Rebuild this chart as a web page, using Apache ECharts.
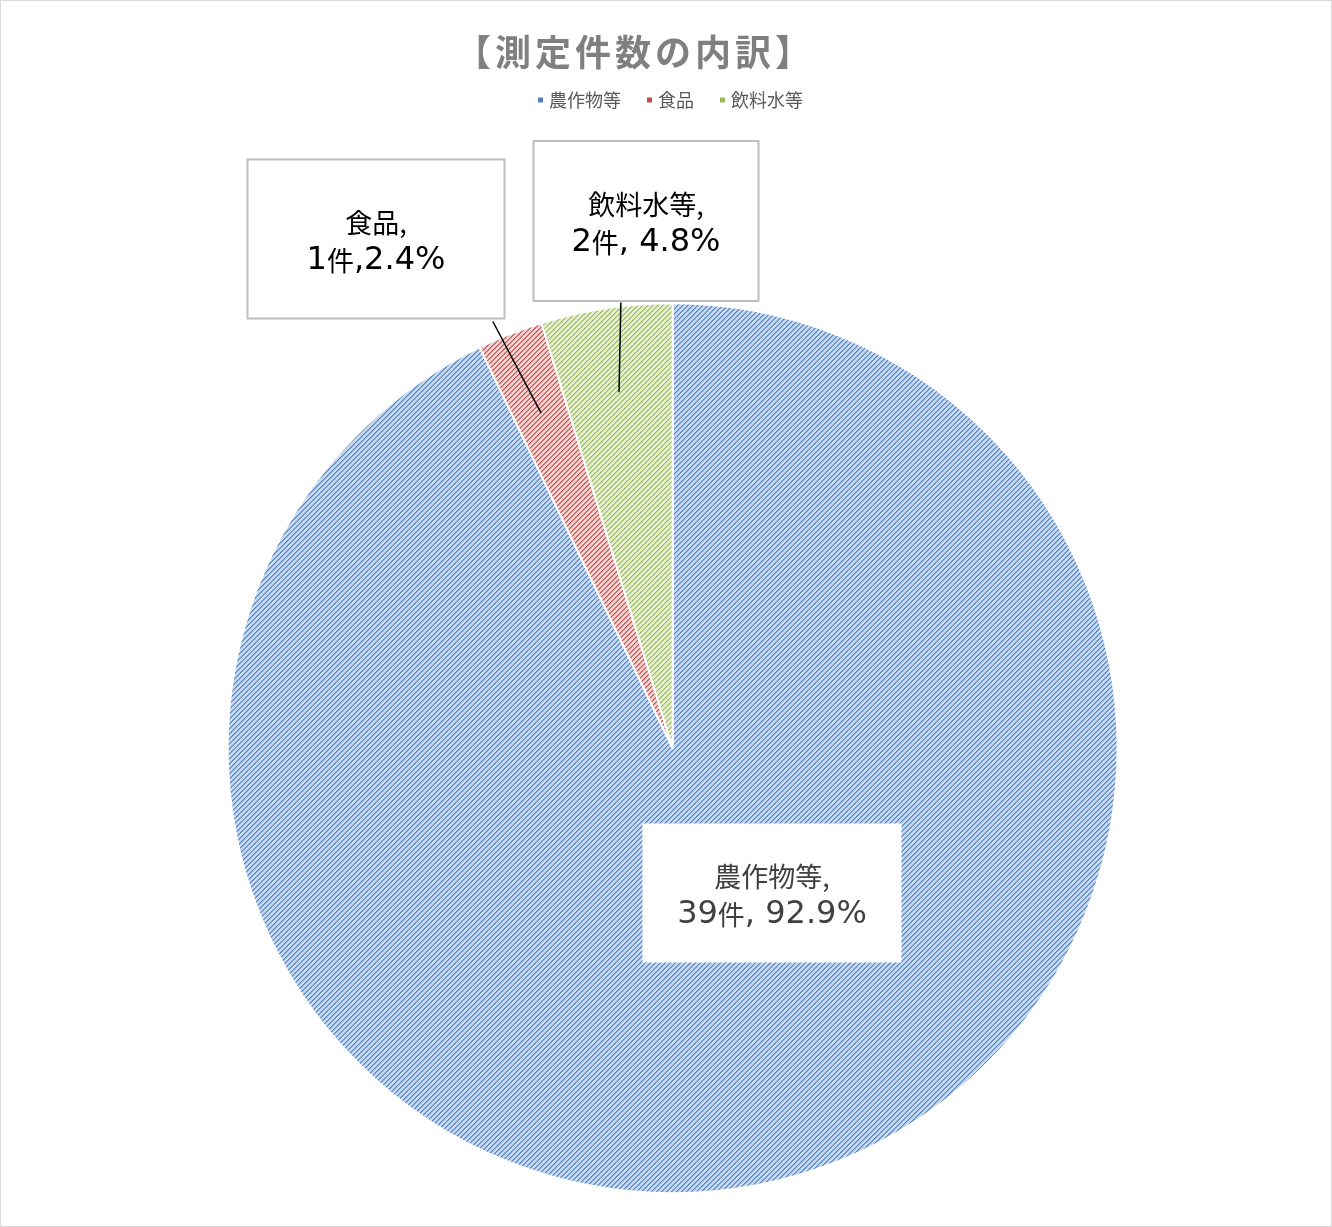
<!DOCTYPE html>
<html>
<head>
<meta charset="utf-8">
<script src="https://cdn.jsdelivr.net/npm/echarts@6/dist/echarts.min.js"></script>
<style>
html, body { margin: 0; padding: 0; background: #fff; }
#container { width: 1330px; height: 1225px; border: 1px solid #d9d9d9; }
</style>
</head>
<body>
<div id="container"></div>
<script>
var dom = document.getElementById("container");
var myChart = echarts.init(dom);

// data
var titleText = '【測定件数の内訳】';
var categories = ['農作物等', '食品', '飲料水等'];
var counts = [39, 1, 2];
var countUnit = '件';
var separators = [', ', ',', ', '];

// looks
var lineColors = ['#4f81bd', '#c0504d', '#9bbb59'];
var fillColors = ['#c6d9f1', '#f2d3d2', '#e5eed3'];
var labelBoxes = [
    { x: 771, y: 892, w: 259, h: 139, border: null, color: '#404040' },
    { x: 375, y: 238, w: 255, h: 157, border: '#bfbfbf', color: '#000' },
    { x: 645, y: 220, w: 223, h: 158, border: '#bfbfbf', color: '#000' }
];
// where the leader lines leave the label boxes (null = no line)
var leaderStarts = [null, { x: 492, y: 320 }, { x: 620, y: 301 }];

var total = counts.reduce(function (a, b) { return a + b; }, 0);
var CJK = '"Noto Sans CJK JP", sans-serif';
var LATIN = '"DejaVu Sans", "Noto Sans CJK JP", sans-serif';

// small "/" hatch tile, like the office pattern fill
var TILE = 5;
function hexRgb(h) {
    return [parseInt(h.substr(1, 2), 16), parseInt(h.substr(3, 2), 16), parseInt(h.substr(5, 2), 16)];
}
function hatch(dark, light) {
    var c = document.createElement('canvas');
    c.width = TILE; c.height = TILE;
    var ctx = c.getContext('2d');
    var d = hexRgb(dark), l = hexRgb(light);
    var mid = d.map(function (v, k) { return Math.round((v + l[k]) / 2); });
    for (var y = 0; y < TILE; y++) {
        for (var x = 0; x < TILE; x++) {
            var k = (x + y) % TILE;
            var col = k === 0 ? d : (k === 1 ? mid : l);
            ctx.fillStyle = 'rgb(' + col.join(',') + ')';
            ctx.fillRect(x, y, 1, 1);
        }
    }
    return c;
}

function richStyles(color) {
    return {
        c: { fontFamily: CJK, fontSize: 27, color: color, lineHeight: 38 },
        n: { fontFamily: LATIN, fontSize: 32, color: color, lineHeight: 38 }
    };
}

var data = categories.map(function (name, i) {
    var pct = (counts[i] / total * 100).toFixed(1);
    var box = labelBoxes[i];
    var padV = (box.h - 76) / 2;
    return {
        name: name,
        value: counts[i],
        itemStyle: {
            color: { image: hatch(lineColors[i], fillColors[i]), repeat: 'repeat' }
        },
        label: {
            formatter: '{c|' + name + ',}\n{n|' + counts[i] + '}{c|' + countUnit + '}{n|' + separators[i] + pct + '%}',
            rich: richStyles(box.color),
            width: box.w,
            padding: [padV + 3, 0, padV - 3, 0],
            backgroundColor: '#fff',
            borderColor: box.border || 'transparent',
            borderWidth: box.border ? 2 : 0
        }
    };
});

var guideData = categories.map(function (name, i) {
    return {
        name: name,
        value: counts[i],
        label: { show: leaderStarts[i] !== null },
        labelLine: { show: leaderStarts[i] !== null }
    };
});

option = {
    backgroundColor: '#fff',
    title: {
        text: titleText.split('').map(function (ch) { return '{s|' + ch + '}'; }).join(''),
        left: 447,
        top: 28,
        textStyle: {
            rich: {
                s: {
                    fontFamily: CJK,
                    fontSize: 36,
                    fontWeight: 'bold',
                    color: '#808080',
                    padding: [0, 2]
                }
            }
        }
    },
    legend: {
        top: 85,
        left: 530,
        icon: 'rect',
        itemWidth: 7,
        itemHeight: 7,
        itemGap: 24,
        textStyle: { fontFamily: CJK, fontSize: 18, color: '#595959' },
        data: categories.map(function (name, i) {
            return { name: name, itemStyle: { color: lineColors[i] } };
        })
    },
    series: [{
        type: 'pie',
        z: 2,
        center: ['50.5%', '61%'],
        radius: 445,
        startAngle: 90,
        clockwise: true,
        avoidLabelOverlap: false,
        itemStyle: { borderColor: '#fff', borderWidth: 2 },
        label: {
            show: true,
            position: 'outside',
            align: 'center'
        },
        labelLine: { show: false },
        labelLayout: function (params) {
            var box = labelBoxes[params.dataIndex];
            return { x: box.x, y: box.y, align: 'center', verticalAlign: 'middle' };
        },
        emphasis: { scale: false },
        data: data
    }, {
        // invisible ring that carries the leader lines into the slices
        type: 'pie',
        z: 5,
        center: ['50.5%', '61%'],
        radius: 360,
        startAngle: 90,
        clockwise: true,
        silent: true,
        avoidLabelOverlap: false,
        itemStyle: { color: 'rgba(0,0,0,0)', borderWidth: 0 },
        label: {
            show: true,
            position: 'outside',
            formatter: ' ',
            fontSize: 1,
            color: 'rgba(0,0,0,0)'
        },
        labelLine: {
            show: true,
            length2: 0,
            lineStyle: { color: '#000', width: 1.5 }
        },
        labelLayout: function (params) {
            var p = leaderStarts[params.dataIndex];
            return p ? { x: p.x, y: p.y } : {};
        },
        emphasis: { disabled: true },
        data: guideData
    }]
};

if (option && typeof option === "object") {
    myChart.setOption(option, false);
}
</script>
</body>
</html>
